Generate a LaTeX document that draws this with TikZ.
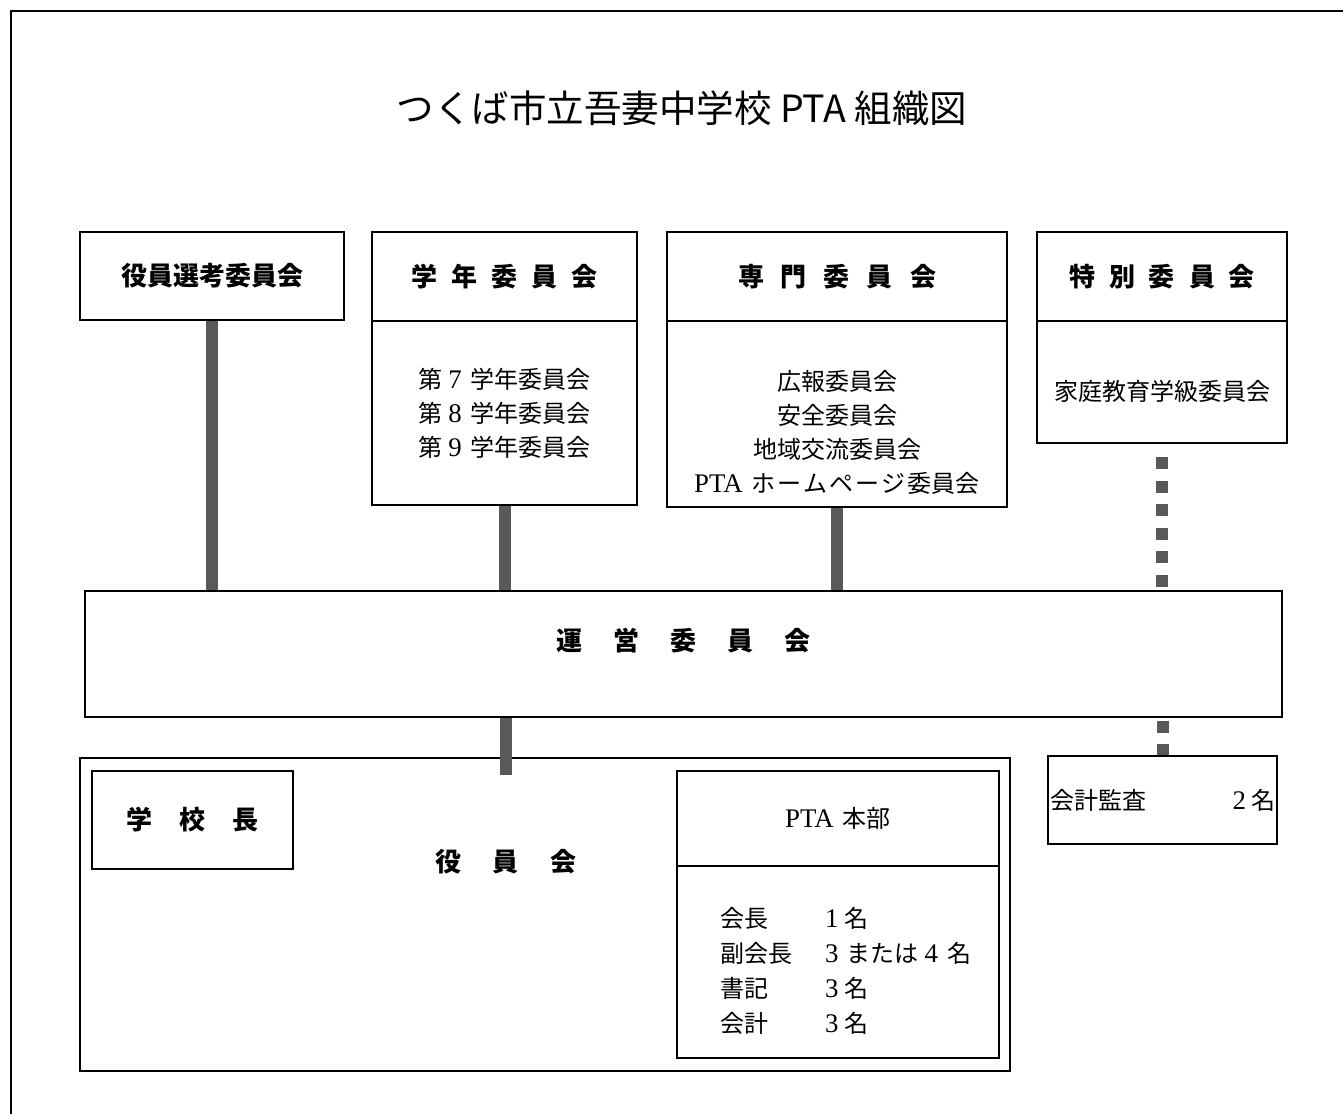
\documentclass[tikz,border=0pt]{standalone}
\usepackage{fontspec}
\setmainfont{Noto Sans CJK JP}
\newfontfamily\latin[Scale=1.12]{Liberation Serif}
\usetikzlibrary{calc}

\definecolor{linkgray}{RGB}{89,89,89}
\newcommand{\bodyfont}{\fontsize{24}{34}\selectfont}
\newcommand{\headfont}{\fontsize{26}{30}\selectfont\bfseries}
\newcommand{\dig}[1]{\hspace{6pt}{\latin #1}\hspace{9pt}}

\tikzset{
    orgbox/.style 2 args={draw, line width=2pt, minimum width=#1, minimum height=#2, inner sep=0pt, align=center},
    link/.style={draw=linkgray, line width=12pt},
    dotlink/.style={draw=linkgray, line width=12pt, dash pattern=on 12pt off 11.5pt},
}

\begin{document}
\begin{tikzpicture}[x=1pt, y=-1pt]
    \useasboundingbox (0,0) rectangle (1343,1113);
    \clip (0,0) rectangle (1343,1113);
    \draw[line width=2pt] (11,11) rectangle (1400,1200);

    \node (title) at (682,108) {\fontsize{37.5}{40}\selectfont つくば市立吾妻中学校 PTA 組織図};

    % top row
    \node[orgbox={264pt}{88pt}, font=\headfont] (senko) at (212,276) {役員選考委員会};

    \node[orgbox={265pt}{89pt}, font=\headfont] (gakunen) at (504.5,276.5) {学\hspace{14pt}年\hspace{14pt}委\hspace{14pt}員\hspace{14pt}会};
    \node[orgbox={265pt}{184pt}, font=\bodyfont] (gakunenbody) at (504.5,413) {第\dig{7}学年委員会\\第\dig{8}学年委員会\\第\dig{9}学年委員会};

    \node[orgbox={340pt}{89pt}, font=\headfont] (senmon) at (837,276.5) {専\hspace{17pt}門\hspace{17pt}委\hspace{17pt}員\hspace{17pt}会};
    \node[orgbox={340pt}{186pt}] (senmonbody) at (837,414) {};
    \node[font=\bodyfont, align=center] (senmonlist) at (837,432) {広報委員会\\安全委員会\\地域交流委員会\\{\latin PTA}\hspace{9pt}ホ\hspace{2pt}ー\hspace{2pt}ム\hspace{2pt}ペ\hspace{2pt}ー\hspace{2pt}ジ\hspace{2pt}委員会};

    \node[orgbox={250pt}{89pt}, font=\headfont] (tokubetsu) at (1162,276.5) {特\hspace{14pt}別\hspace{14pt}委\hspace{14pt}員\hspace{14pt}会};
    \node[orgbox={250pt}{122pt}] (tokubetsubody) at (1162,382) {};
    \node[font=\bodyfont] (tokubetsulist) at (1162,391) {家庭教育学級委員会};

    % middle
    \node[orgbox={1197pt}{126pt}] (unei) at (683.5,654) {};
    \node[font=\headfont] (ueilabel) at (683.5,641) {運\hspace{31pt}営\hspace{31pt}委\hspace{31pt}員\hspace{31pt}会};

    % bottom
    \node[orgbox={930pt}{313pt}] (yakuin) at (545,914.5) {};
    \node[font=\headfont] (yakuinlabel) at (506,862) {役\hspace{32pt}員\hspace{32pt}会};
    \node[orgbox={201pt}{98pt}, font=\headfont] (kocho) at (192.5,820) {学\hspace{27pt}校\hspace{27pt}長};

    \node[orgbox={322pt}{95pt}, font=\bodyfont] (honbu) at (838,818.5) {{\latin PTA}\hspace{9pt}本部};
    \node[orgbox={322pt}{192pt}] (honbubody) at (838,962) {};
    \node[font=\fontsize{24}{35}\selectfont, anchor=west, inner sep=0pt] (honbulist) at (720,972.5) {%
        \begin{tabular}{@{}l@{\hspace{33pt}}l@{}}
            会長 & {\latin 1}\hspace{6pt}名\\
            副会長 & {\latin 3}\hspace{8pt}または\dig{4}名\\
            書記 & {\latin 3}\hspace{6pt}名\\
            会計 & {\latin 3}\hspace{6pt}名
        \end{tabular}};

    \node[orgbox={229pt}{88pt}, font=\bodyfont] (kansa) at (1162.5,800) {\makebox[225pt]{会計監査\hfill{\latin 2}\hspace{5pt}名}};

    % connectors
    \draw[link] (senko.south) -- (senko.south |- unei.north);
    \draw[link] (gakunenbody.south) -- (gakunenbody.south |- unei.north);
    \draw[link] (senmonbody.south) -- (senmonbody.south |- unei.north);
    \draw[dotlink] ($(tokubetsubody.south)+(0,13)$) -- (tokubetsubody.south |- unei.north);
    \draw[dotlink] ($(kansa.north |- unei.south)+(0,2.5)$) -- (kansa.north);
    \coordinate (yakuintop) at (506,775);
    \draw[link] (yakuintop |- unei.south) -- (yakuintop);
\end{tikzpicture}
\end{document}
